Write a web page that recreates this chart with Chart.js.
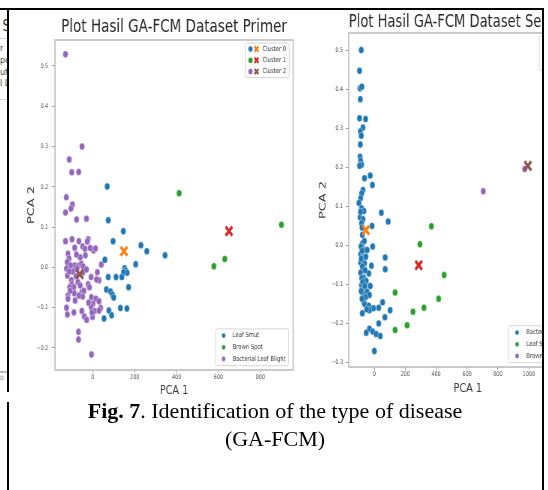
<!DOCTYPE html>
<html>
<head>
<meta charset="utf-8">
<script src="https://cdn.jsdelivr.net/npm/chart.js@4/dist/chart.umd.min.js"></script>
<style>
body { margin: 0; background: #fff; width: 548px; height: 490px; overflow: hidden; position: relative; font-family: "DejaVu Sans"; }
.abs { position: absolute; white-space: nowrap; }
.line { position: absolute; background: #000; }
.clip { position: absolute; overflow: hidden; }
.squash { transform: scaleX(0.75); transform-origin: 0 0; }
#caption { position: absolute; left: 8px; top: 397px; width: 534px; text-align: center;
  font: 22px/28px "Liberation Serif", "Times New Roman", serif; color: #000; }
</style>
</head>
<body>
<!-- table frame -->
<div class="line" style="left:0;top:8px;width:544px;height:2px"></div>
<div class="line" style="left:7px;top:8px;width:1.6px;height:384px"></div>
<div class="line" style="left:7px;top:402px;width:2.4px;height:88px"></div>
<div class="line" style="left:542px;top:8px;width:2px;height:482px"></div>

<!-- tail of the previous figure, cut by the cell border -->
<div class="clip" style="left:0;top:0;width:7px;height:490px">
  <div class="abs squash" style="left:-6px;top:16px;font-size:16px;color:#333">t S</div>
  <div class="abs" style="left:-30px;top:38px;width:40px;height:60px;border:1px solid #d5d5d5;border-radius:2px"></div>
  <div class="abs" style="left:0;top:44px;font-size:8px;color:#444">r</div>
  <div class="abs" style="left:0;top:56px;font-size:8px;color:#444">po</div>
  <div class="abs" style="left:0;top:68px;font-size:8px;color:#444">ut</div>
  <div class="abs" style="left:0;top:79px;font-size:8px;color:#444">l L</div>
  <div class="abs" style="left:0;top:371px;width:7px;height:1.5px;background:#bbb"></div>
  <div class="abs" style="left:0;top:374px;font-size:6px;color:#777">0</div>
</div>

<div class="clip" style="left:10px;top:10px;width:291px;height:390px">
  <div class="squash"><canvas id="primer" width="387" height="390"></canvas></div>
</div>
<div class="clip" style="left:306px;top:8px;width:236px;height:392px">
  <div class="squash"><canvas id="sekunder" width="384" height="392"></canvas></div>
</div>

<div id="caption"><b>Fig. 7</b>. Identification of the type of disease<br>(GA-FCM)</div>

<script>
// tab10 colours as matplotlib/seaborn use them
const classColors = ["#1f77b4", "#2ca02c", "#9467bd"];
const clusterColors = ["#ff7f0e", "#d62728", "#8c564b"];
const clusterNames = ["Cluster 0", "Cluster 1", "Cluster 2"];

// ---- Dataset Primer (PCA 1, PCA 2) ----
const primerTitle = "Plot Hasil GA-FCM Dataset Primer";
const primerClasses = ["Leaf Smut", "Brown Spot", "Bacterial Leaf Blight"];
const primerLeafSmut = [
  [69, 0.201], [74, 0.117], [146, 0.090], [97, 0.065], [230, 0.055], [258, 0.040], [345, 0.030],
  [58, 0.019], [205, 0.008], [152, -0.002], [157, -0.008], [164, -0.013], [147, -0.012],
  [74, -0.024], [111, -0.024], [139, -0.024], [171, -0.049], [65, -0.055], [85, -0.060],
  [94, -0.068], [100, -0.075], [77, -0.107], [90, -0.119], [132, -0.101], [163, -0.102], [54, -0.127]
];
const primerBrownSpot = [[412, 0.184], [900, 0.106], [630, 0.021], [578, 0.003]];
const primerBlight = [
  [-130, 0.529], [-51, 0.300], [-112, 0.268], [-100, 0.236], [-67, 0.237], [-126, 0.174],
  [-97, 0.156], [-104, 0.146], [-130, 0.136], [-77, 0.119], [-30, 0.121], [-130, 0.065],
  [-99, 0.070], [-66, 0.065], [-22, 0.070], [-26, 0.064], [-48, 0.052], [-37, 0.046],
  [4, 0.042], [13, 0.047], [-86, 0.049], [-118, 0.034], [-113, 0.022], [41, 0.007],
  [-122, 0.013], [-125, -0.003], [-86, 0.005], [-68, 0.004], [-54, 0.009], [-46, -0.012],
  [-8, -0.024], [22, -0.012], [30, -0.032], [-121, -0.020], [-102, -0.032], [-100, -0.042],
  [-90, -0.049], [-71, -0.036], [-110, -0.049], [-22, -0.042], [-16, -0.049], [-52, -0.061],
  [-88, -0.064], [-118, -0.070], [-118, -0.078], [-66, -0.070], [-48, -0.072], [-7, -0.074],
  [15, -0.078], [30, -0.084], [1, -0.090], [-8, -0.098], [38, -0.100], [-125, -0.100],
  [-121, -0.117], [-90, -0.112], [-52, -0.108], [-40, -0.122], [-29, -0.130], [-1, -0.123],
  [8, -0.108], [30, -0.107], [-68, -0.160], [-68, -0.179], [-6, -0.216],
  [-105, 0.005], [-95, -0.010], [-80, -0.022], [-60, 0.025], [-75, -0.003], [-108, -0.058],
  [-84, -0.082], [-42, -0.058], [-20, -0.088], [-12, 0.048], [-35, 0.030], [-4, -0.112],
  [18, -0.030], [-45, 0.002], [-78, 0.032], [-112, -0.010], [-60, -0.045], [-30, -0.005]
];
const primerCentroids = [[149, 0.040], [650, 0.090], [-62, -0.017]];
const primerXTicks = [0, 200, 400, 600, 800];
const primerYTicks = [-0.2, -0.1, 0.0, 0.1, 0.2, 0.3, 0.4, 0.5];

// ---- Dataset Sekunder ----
const sekunderTitle = "Plot Hasil GA-FCM Dataset Sekunder";
const sekunderClasses = ["Bacterial Leaf Blight", "Leaf Smut", "Brown Spot"];
const sekunderBlight = [
  [-85, 0.500], [-96, 0.447], [-93, 0.402], [-81, 0.406], [-91, 0.374], [-96, 0.325],
  [-57, 0.323], [-74, 0.301], [-91, 0.291], [-85, 0.280], [-91, 0.258], [-93, 0.226],
  [-89, 0.216], [-83, 0.206], [-96, 0.203], [-64, 0.171], [-27, 0.178], [-13, 0.154],
  [-74, 0.141], [-83, 0.132], [-89, 0.120], [-100, 0.108], [-83, 0.094], [-68, 0.087],
  [45, 0.083], [-93, 0.071], [-74, 0.066], [-83, 0.056], [89, 0.060], [-15, 0.049],
  [-78, 0.026], [-78, 0.004], [-87, -0.004], [-68, -0.013], [-11, -0.004], [-47, -0.013],
  [-89, -0.023], [-74, -0.032], [70, -0.032], [-89, -0.045], [-64, -0.047], [-19, -0.053],
  [-74, -0.060], [70, -0.062], [-89, -0.071], [-36, -0.073], [-70, -0.083], [-53, -0.092],
  [-83, -0.103], [-27, -0.105], [-70, -0.111], [-47, -0.120], [-74, -0.126], [-32, -0.128],
  [-57, -0.134], [-70, -0.145], [53, -0.147], [-64, -0.151], [-36, -0.156], [-6, -0.162],
  [28, -0.161], [-78, -0.175], [-32, -0.167], [102, -0.167], [68, -0.185], [28, -0.201],
  [-32, -0.215], [-53, -0.225], [-11, -0.222], [11, -0.228], [38, -0.233], [0, -0.272],
  [-80, -0.015], [-85, -0.035], [-78, -0.055], [-82, -0.085], [-76, -0.095], [-86, -0.118],
  [-80, -0.138], [-60, -0.065], [-55, -0.030], [-65, 0.010], [-90, 0.085], [-80, 0.045],
  [-62, -0.105], [-50, -0.165]
];
const sekunderLeafSmut = [
  [369, 0.048], [295, 0.002], [452, -0.077], [134, -0.122], [416, -0.138], [321, -0.161],
  [250, -0.171], [212, -0.206], [134, -0.218]
];
const sekunderBrownSpot = [[705, 0.138], [973, 0.195]];
const sekunderCentroids = [[-55, 0.038], [287, -0.052], [994, 0.203]];
const sekunderXTicks = [0, 200, 400, 600, 800, 1000, 1200];
const sekunderYTicks = [-0.3, -0.2, -0.1, 0.0, 0.1, 0.2, 0.3, 0.4, 0.5];

const FONT = "DejaVu Sans";
const toPts = arr => arr.map(p => ({ x: p[0], y: p[1] }));
const fmtY = v => (v < 0 ? "\u2212" : "") + Math.abs(v).toFixed(1);

// grey frame round the axes (matplotlib spines)
const spines = {
  id: "spines",
  afterDatasetsDraw(chart) {
    const { ctx, chartArea: a } = chart;
    ctx.save();
    ctx.strokeStyle = "#bdbdbd";
    ctx.lineWidth = 1.6;
    ctx.strokeRect(a.left, a.top, a.right - a.left, a.bottom - a.top);
    ctx.restore();
  }
};

function drawX(ctx, x, y, s, color) {
  ctx.strokeStyle = color;
  ctx.lineWidth = 2.4;
  ctx.beginPath();
  ctx.moveTo(x - s, y - s); ctx.lineTo(x + s, y + s);
  ctx.moveTo(x - s, y + s); ctx.lineTo(x + s, y - s);
  ctx.stroke();
}

// legends drawn inside the axes, like plt.legend()
const boxLegend = {
  id: "boxLegend",
  afterDatasetsDraw(chart, args, opts) {
    const { ctx, chartArea: a } = chart;
    (opts.boxes || []).forEach(b => {
      ctx.save();
      ctx.font = "7px '" + FONT + "'";
      const textW = Math.max(...b.labels.map(l => ctx.measureText(l).width));
      const w = b.textX + textW + 4;
      const h = b.padTop * 2 + b.rowH * (b.labels.length - 1);
      const x = a.right - b.dx - w;
      const y = b.corner === "top" ? a.top + b.dy : a.bottom - b.dy - h;
      ctx.fillStyle = "rgba(255,255,255,0.85)";
      ctx.strokeStyle = "#d6d6d6";
      ctx.lineWidth = 1;
      ctx.beginPath();
      ctx.roundRect(x, y, w, h, 2);
      ctx.fill();
      ctx.stroke();
      b.labels.forEach((lab, i) => {
        const cy = y + b.padTop + i * b.rowH;
        ctx.fillStyle = b.dotColors[i];
        ctx.beginPath();
        ctx.arc(x + b.dotX, cy, b.dotR, 0, Math.PI * 2);
        ctx.fill();
        if (b.crossColors) drawX(ctx, x + b.crossX, cy, 2.6, b.crossColors[i]);
        ctx.fillStyle = "#333";
        ctx.textBaseline = "middle";
        ctx.fillText(lab, x + b.textX, cy);
      });
      ctx.restore();
    });
  }
};

function makeChart(id, cfg) {
  const tickFont = { family: FONT, size: 6.5 };
  const datasets = [];
  cfg.centroids.forEach((c, i) => datasets.push({
    label: clusterNames[i], data: toPts([c]), pointStyle: "crossRot", pointRadius: 6.3,
    pointBorderWidth: 3.2, pointBorderColor: clusterColors[i], pointBackgroundColor: clusterColors[i], order: 0
  }));
  cfg.groups.forEach((g, i) => datasets.push({
    label: cfg.classes[i], data: toPts(g), pointRadius: 3.5, pointBackgroundColor: classColors[i],
    pointBorderColor: "#ffffff", pointBorderWidth: 0.4, order: 1 + i
  }));

  const axis = (a) => ({
    type: "linear",
    min: a.min, max: a.max,
    afterBuildTicks: s => { s.ticks = a.ticks.map(v => ({ value: v })); },
    afterFit: s => { if (a.width) s.width = a.width; if (a.height) s.height = a.height; },
    grid: { drawOnChartArea: false, drawTicks: true, tickLength: a.tickLength, color: "#9a9a9a" },
    border: { display: false },
    ticks: { padding: a.padding, font: tickFont, color: "#555", autoSkip: false, maxRotation: 0, callback: a.fmt },
    title: { display: true, text: a.title, color: "#3a3a3a", font: { family: FONT, size: 13 }, padding: a.titlePad }
  });

  return new Chart(document.getElementById(id), {
    type: "scatter",
    data: { datasets },
    plugins: [spines, boxLegend],
    options: {
      responsive: false,
      animation: false,
      devicePixelRatio: 1,
      events: [],
      layout: { padding: { left: 0, right: cfg.padRight, top: 0, bottom: 0 } },
      scales: {
        x: axis(Object.assign({ fmt: v => String(v), title: "PCA 1" }, cfg.x)),
        y: axis(Object.assign({ fmt: fmtY, title: "PCA 2" }, cfg.y))
      },
      plugins: {
        legend: { display: false },
        tooltip: { enabled: false },
        title: {
          display: true, text: cfg.title, fullSize: false, color: "#262626",
          font: { family: FONT, size: 18, weight: "normal" }, padding: cfg.titlePad
        },
        boxLegend: { boxes: cfg.legends }
      }
    }
  });
}

makeChart("primer", {
  title: primerTitle,
  classes: primerClasses,
  groups: [primerLeafSmut, primerBrownSpot, primerBlight],
  centroids: primerCentroids,
  padRight: 3,
  titlePad: { top: 7, bottom: 1.4 },
  x: { min: -180, max: 956, ticks: primerXTicks, height: 30, tickLength: 3, padding: 0.5, titlePad: { top: 0, bottom: 1.5 } },
  y: { min: -0.2547, max: 0.5645, ticks: primerYTicks, width: 60, tickLength: 4, padding: 5, titlePad: { top: 21, bottom: 0 } },
  legends: [
    { corner: "top", labels: clusterNames, dotColors: classColors, crossColors: clusterColors,
      dx: 5.3, dy: 3, padTop: 6, rowH: 11.3, dotX: 6.7, dotR: 2.8, crossX: 14.7, textX: 22.7 },
    { corner: "bottom", labels: primerClasses, dotColors: classColors,
      dx: 6, dy: 4.3, padTop: 6.7, rowH: 11.7, dotX: 10.7, dotR: 2.4, textX: 22.7 }
  ]
});

makeChart("sekunder", {
  title: sekunderTitle,
  classes: sekunderClasses,
  groups: [sekunderBlight, sekunderLeafSmut, sekunderBrownSpot],
  centroids: sekunderCentroids,
  padRight: 4,
  titlePad: { top: 3.2, bottom: 0.2 },
  x: { min: -166, max: 1376, ticks: sekunderXTicks, height: 33, tickLength: 3, padding: 0.5, titlePad: { top: 0, bottom: 3.9 } },
  y: { min: -0.3128, max: 0.5436, ticks: sekunderYTicks, width: 57, tickLength: 4, padding: 3.5, titlePad: { top: 15, bottom: 0 } },
  legends: [
    { corner: "top", labels: clusterNames, dotColors: classColors, crossColors: clusterColors,
      dx: 5.3, dy: 3, padTop: 6, rowH: 11.3, dotX: 6.7, dotR: 2.8, crossX: 14.7, textX: 22.7 },
    { corner: "bottom", labels: sekunderClasses, dotColors: classColors,
      dx: 6, dy: 4.3, padTop: 6.7, rowH: 11.7, dotX: 12, dotR: 2.4, textX: 24.4 }
  ]
});
</script>
</body>
</html>
